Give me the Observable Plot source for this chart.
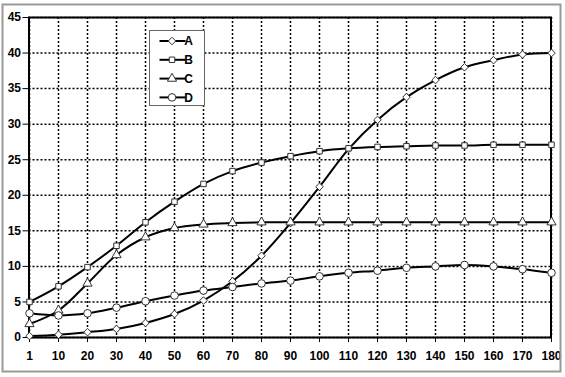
<!DOCTYPE html>
<html>
<head>
<meta charset="utf-8">
<script src="https://cdn.jsdelivr.net/npm/d3@7"></script>
<script src="https://cdn.jsdelivr.net/npm/@observablehq/plot@0.6"></script>
<style>
  html, body { margin: 0; padding: 0; background: #fff; }
  #chart { width: 565px; height: 377px; }
</style>
</head>
<body>
<div id="chart"></div>
<script>
const categories = ["1","10","20","30","40","50","60","70","80","90","100","110","120","130","140","150","160","170","180"];
const seriesNames = ["A","B","C","D"];
const seriesA = [0.2,0.4,0.75,1.2,2.05,3.3,5.2,7.9,11.5,16.1,21.2,26.5,30.6,33.8,36.2,38.0,39.0,39.8,40.0];
const seriesB = [5.0,7.2,9.9,12.9,16.2,19.1,21.6,23.4,24.6,25.5,26.2,26.6,26.8,26.9,27.0,27.0,27.1,27.1,27.1];
const seriesC = [1.9,3.8,7.6,11.6,14.1,15.4,15.9,16.1,16.2,16.2,16.2,16.2,16.2,16.2,16.2,16.2,16.2,16.2,16.2];
const seriesD = [3.4,3.1,3.4,4.2,5.1,5.9,6.6,7.1,7.6,8.0,8.6,9.1,9.4,9.8,10.0,10.2,10.0,9.6,9.1];
const yTicks = [0,5,10,15,20,25,30,35,40,45];

const seriesValues = [seriesA, seriesB, seriesC, seriesD];
const symbols = {A: "diamond2", B: "square", C: "triangle", D: "circle"};
const radii = {A: 3.4, B: 3.1, C: 3.4, D: 3.8};

const data = seriesNames.flatMap((s, i) => categories.map((c, j) => ({series: s, cat: c, value: seriesValues[i][j]})));

const W = 565, H = 377;
const chart = Plot.plot({
  width: W,
  height: H,
  marginLeft: 28.5,
  marginRight: 14.5,
  marginTop: 17,
  marginBottom: 40,
  style: {fontFamily: "'Liberation Sans', Arial, sans-serif", fontSize: "12px", fontWeight: "bold", background: "white", color: "black"},
  x: {type: "point", domain: categories, padding: 0, label: null},
  y: {domain: [0, 45], label: null},
  marks: [
    Plot.gridX(categories, {stroke: "black", strokeOpacity: 1, strokeWidth: 1.5, strokeDasharray: "2,2"}),
    Plot.gridY(yTicks, {stroke: "black", strokeOpacity: 1, strokeWidth: 1.5, strokeDasharray: "2,2"}),
    Plot.axisX({ticks: categories, tickSize: 5, tickPadding: 9, stroke: "black", fill: "black", label: null}),
    Plot.axisY({ticks: yTicks, tickSize: 6, tickPadding: 2, stroke: "black", fill: "black", label: null}),
    Plot.frame({stroke: "black", strokeWidth: 2}),
    Plot.line(data, {x: "cat", y: "value", z: "series", curve: "catmull-rom", stroke: "black", strokeWidth: 2}),
    ...seriesNames.map(s => Plot.dot(data.filter(d => d.series === s), {
      x: "cat", y: "value", symbol: () => symbols[s], r: radii[s], fill: "white", stroke: "#333", strokeWidth: 1
    }))
  ]
});

document.getElementById("chart").appendChild(chart);

const svg = d3.select(chart);
// outer border
svg.append("rect").attr("x", 2.5).attr("y", 4.5).attr("width", 558).attr("height", 367)
  .attr("fill", "none").attr("stroke", "#999").attr("stroke-width", 2);

// legend
const lg = svg.append("g").attr("transform", "translate(149.5,30.5)");
lg.append("rect").attr("width", 55).attr("height", 75).attr("fill", "white").attr("stroke", "#666").attr("stroke-width", 1);
const symMap = {diamond2: d3.symbolDiamond2, square: d3.symbolSquare, triangle: d3.symbolTriangle, circle: d3.symbolCircle};
seriesNames.forEach((s, i) => {
  const yy = 10.5 + i * 18.8;
  const g = lg.append("g").attr("transform", `translate(0,${yy})`);
  g.append("line").attr("x1", 10).attr("x2", 36).attr("y1", 0).attr("y2", 0).attr("stroke", "black").attr("stroke-width", 2);
  const r = radii[s];
  g.append("path").attr("transform", "translate(22.5,0)")
    .attr("d", d3.symbol(symMap[symbols[s]], Math.PI * r * r)())
    .attr("fill", "white").attr("stroke", "#333").attr("stroke-width", 1);
  g.append("text").attr("x", 39).attr("y", 0).attr("dy", "0.35em")
    .attr("font-family", "'Liberation Sans', Arial, sans-serif").attr("font-size", 12).attr("font-weight", "bold")
    .text(s);
});
</script>
</body>
</html>
